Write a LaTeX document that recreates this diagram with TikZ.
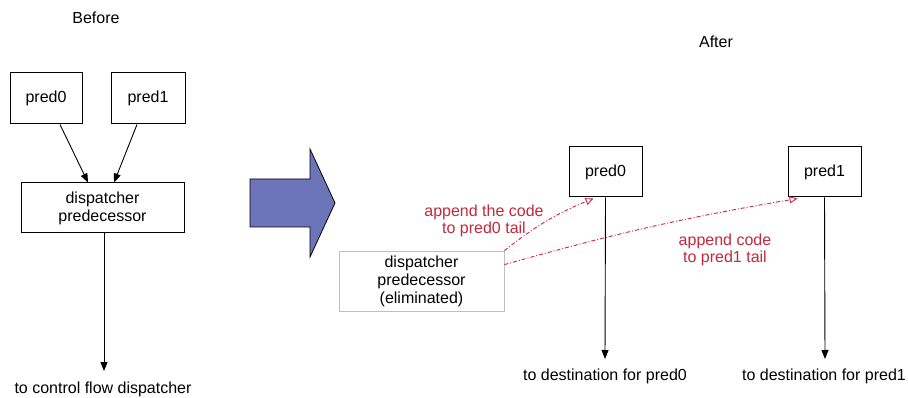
\documentclass[tikz,border=0pt]{standalone}
\usepackage{fontspec}
\setmainfont{Liberation Sans}
\usetikzlibrary{arrows.meta,calc}
\definecolor{redlab}{RGB}{196,40,60}
\definecolor{bigblue}{RGB}{108,117,186}
\tikzset{
  box/.style={draw, line width=1pt, inner sep=0pt, align=center, font=\fontsize{16}{18}\selectfont},
  lbl/.style={inner sep=0pt, align=center, font=\fontsize{16}{18}\selectfont},
  redlbl/.style={lbl, text=redlab, font=\fontsize{16}{17}\selectfont},
  blk/.style={draw, line width=0.9pt, -{Triangle[length=9pt,width=7pt]}},
  redarr/.style={draw=redlab, line width=0.9pt, dash pattern=on 4pt off 2pt on 1pt off 2pt, -{Triangle[open,length=8pt,width=7pt]}},
}
\begin{document}
\begin{tikzpicture}[x=1pt,y=-1pt]
\useasboundingbox (0,0) rectangle (908,398);
% Before
\node[lbl] (before) at (96,18) {Before};
\node[box, minimum width=72pt, minimum height=51pt] (lp0) at (46,98.5) {pred0};
\node[box, minimum width=74pt, minimum height=51pt] (lp1) at (148,98.5) {pred1};
\node[box, minimum width=163pt, minimum height=50pt] (ldp) at (102.5,208) {dispatcher\\predecessor};
\coordinate (ldpin0) at ($(ldp.north)+(-14.5,0)$);
\coordinate (ldpin1) at ($(ldp.north)+(11.5,0)$);
\coordinate (ldpout) at ($(ldp.south)+(1.5,0)$);
\draw[blk] ($(lp0.south)+(14,0)$) -- (ldpin0);
\draw[blk] ($(lp1.south)+(-11,0)$) -- (ldpin1);
\node[lbl] (lout) at (103,389) {to control flow dispatcher};
\coordinate (loutend) at (104,371);
\draw[blk] (ldpout) -- (loutend);
% Big arrow
\draw[line width=0.8pt, fill=bigblue] (250,179) -- (310,179) -- (310,149) -- (335,203) -- (310,257) -- (310,227) -- (250,227) -- cycle;
% After
\node[lbl] (after) at (716,42) {After};
\node[box, draw=gray!50, line width=0.8pt, minimum width=165pt, minimum height=60pt] (rdp) at (421.5,281) {dispatcher\\predecessor\\(eliminated)};
\node[box, minimum width=73pt, minimum height=50pt] (rp0) at (605.5,172) {pred0};
\node[box, minimum width=73pt, minimum height=50pt] (rp1) at (824.5,172) {pred1};
\node[lbl] (rout0) at (605,376) {to destination for pred0};
\node[lbl] (rout1) at (824,376) {to destination for pred1};
\coordinate (rend0) at (605,359);
\coordinate (rend1) at (825,359);
\draw[blk] (rp0.south) -- (rend0);
\draw[blk] (rp1.south) -- (rend1);
% red arrows
\coordinate (tail0) at ($(rp0.south west)+(25,1)$);
\coordinate (tail1) at ($(rp1.south west)+(10,1)$);
\draw[redarr] (rdp.north east) to[bend left=8] (tail0);
\draw[redarr] ($(rdp.north east)+(0,14)$) to[bend left=3] (tail1);
\node[redlbl] (l0) at (484,221) {append the code\\to pred0 tail};
\node[redlbl] (l1) at (725,250) {append code\\to pred1 tail};
\end{tikzpicture}
\end{document}
